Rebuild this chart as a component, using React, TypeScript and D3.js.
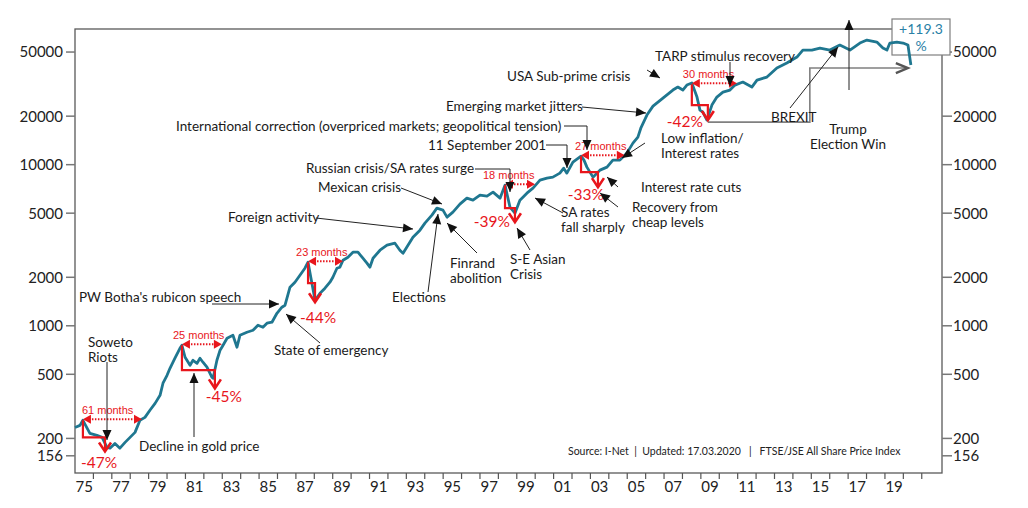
import React from 'react';
import * as d3 from 'd3';

// ---------- DATA ----------
const seriesYears = [
  1975.0, 1975.27, 1975.43, 1975.81, 1976.19, 1976.47, 1976.74, 1976.9, 1977.17, 1977.44, 1977.72, 1977.99,
  1978.26, 1978.53, 1978.8, 1979.07, 1979.35, 1979.62, 1979.78, 1980.0, 1980.16, 1980.43, 1980.7, 1980.81,
  1980.98, 1981.25, 1981.41, 1981.63, 1981.79, 1981.95, 1982.17, 1982.44, 1982.5, 1982.71, 1982.88, 1982.98,
  1983.26, 1983.58, 1983.8, 1983.96, 1984.34, 1984.67, 1984.94, 1985.21, 1985.43, 1985.7, 1985.97, 1986.24,
  1986.41, 1986.68, 1986.95, 1987.22, 1987.49, 1987.66, 1987.87, 1988.04, 1988.31, 1988.58, 1988.85, 1989.01,
  1989.23, 1989.39, 1989.56, 1989.83, 1990.1, 1990.37, 1990.64, 1990.86, 1991.02, 1991.19, 1991.57, 1991.95,
  1992.38, 1992.65, 1992.82, 1993.09, 1993.36, 1993.74, 1994.01, 1994.39, 1994.66, 1994.99, 1995.21, 1995.53,
  1995.91, 1996.29, 1996.62, 1997.0, 1997.38, 1997.71, 1998.09, 1998.36, 1998.63, 1998.9, 1999.17, 1999.55,
  1999.88, 2000.26, 2000.64, 2000.96, 2001.34, 2001.55, 2001.72, 2002.05, 2002.49, 2002.65, 2002.81, 2003.14,
  2003.52, 2003.9, 2004.22, 2004.6, 2004.98, 2005.31, 2005.58, 2005.75, 2006.07, 2006.4, 2006.94, 2007.48,
  2007.75, 2008.02, 2008.24, 2008.51, 2008.79, 2008.95, 2009.11, 2009.33, 2009.6, 2009.87, 2010.2, 2010.58,
  2010.85, 2011.28, 2011.77, 2012.05, 2012.59, 2013.13, 2013.67, 2014.22, 2014.54, 2015.03, 2015.47, 2016.01,
  2016.55, 2017.1, 2017.64, 2018.02, 2018.56, 2018.89, 2019.11, 2019.27, 2019.65, 2019.98, 2020.25, 2020.41,
];
const seriesValues = [
  234, 241, 259, 215, 209, 203, 176, 174, 186, 174, 189, 203,
  218, 259, 270, 299, 330, 370, 440, 493, 545, 629, 725, 757,
  638, 569, 611, 585, 629, 594, 553, 479, 472, 611, 705, 736,
  837, 873, 736, 873, 912, 938, 1008, 979, 1037, 1052, 1196, 1304,
  1342, 1735, 1864, 2060, 2277, 2481, 1838, 1441, 1593, 1711, 1864, 2002,
  2277, 2310, 2553, 2665, 2863, 2863, 2627, 2446, 2310, 2627, 2945, 3164,
  3255, 2945, 2822, 3164, 3548, 3922, 4334, 4859, 5371, 5219, 4722, 5072,
  5686, 6197, 6022, 6468, 6376, 6752, 6197, 7464, 5448, 5000, 6022, 6656,
  7149, 8016, 8249, 8367, 8859, 9515, 8859, 10371, 11297, 10669, 9653, 8367,
  9248, 9653, 10669, 10669, 11792, 13608, 14824, 17000, 20311, 23090, 25900, 29038,
  30309, 29038, 31187, 32099, 26272, 21815, 21199, 18912, 23435, 26272, 28220, 29038,
  31187, 32564, 30309, 33506, 34968, 39776, 42725, 46550, 51450, 51450, 52940, 51450,
  55265, 51450, 56865, 59360, 57685, 52940, 51450, 56865, 57685, 56865, 55265, 41520,
];

const yTickValues = [156, 200, 500, 1000, 2000, 5000, 10000, 20000, 50000];
const yTickLabels = ['156', '200', '500', '1000', '2000', '5000', '10000', '20000', '50000'];
const xMinorTickYears = d3.range(1976, 2022);
const xLabelYears = [1975, 1977, 1979, 1981, 1983, 1985, 1987, 1989, 1991, 1993, 1995, 1997, 1999, 2001, 2003, 2005, 2007, 2009, 2011, 2013, 2015, 2017, 2019];
const xLabels = ['75', '77', '79', '81', '83', '85', '87', '89', '91', '93', '95', '97', '99', '01', '03', '05', '07', '09', '11', '13', '15', '17', '19'];

// drawdowns
const ddPeakYear = [1975.43, 1980.81, 1987.66, 1998.36, 2002.49, 2008.51];
const ddPeakValue = [259, 757, 2481, 7464, 11297, 31500];
const ddStepValue = [203, 530, 1838, 5371, 8990, 23435];
const ddTroughYear = [1976.63, 1982.6, 1988.04, 1998.9, 2003.41, 2009.38];
const ddTroughValue = [166, 409, 1401, 4397, 7252, 18912];
const ddRecoveryYear = [1978.64, 1982.98, 1989.56, 1999.99, 2004.87, 2010.96];
const ddMonths = [61, 25, 23, 18, 27, 30];
const ddPct = [-47, -45, -44, -39, -33, -42];

// recovery since 2009 low
const recoveryStartYear = 2009.38;
const recoveryStartValue = 18377;
const recoveryStepYear = 2014.92;
const recoveryEndYear = 2020.3;
const recoveryEndValue = 39776;
const recoveryPct = '+119.3';

// ---------- LAYOUT ----------
const W = 1028, H = 508;
const M = { left: 75, right: 942, top: 29, bottom: 473 };
const ddLabelDx = [-1, -9, -12, -22, -6, -9];
const pctDx = [-6, 9, 3, -23, -12, -23];
const pctDy = [17, 14, 21, 5, 13, 7];

type Callout = { lines: string[]; x: number; y: number; anchor?: string; path?: number[][]; lh?: number };
const callouts: Callout[] = [
  { lines: ['Soweto', 'Riots'], x: 88, y: 347, path: [[107, 362], [107, 440]] },
  { lines: ['Decline in gold price'], x: 139, y: 451, path: [[194, 437], [194, 373]] },
  { lines: ["PW Botha's rubicon speech"], x: 79, y: 302, path: [[212, 304], [279, 304]] },
  { lines: ['State of emergency'], x: 274, y: 355, path: [[320, 343], [286, 314]] },
  { lines: ['Foreign activity'], x: 228, y: 222, path: [[316, 218], [413, 229]] },
  { lines: ['Mexican crisis'], x: 318, y: 192, path: [[401, 188], [442, 204]] },
  { lines: ['Elections'], x: 419, y: 302, anchor: 'middle', path: [[428, 292], [438, 214]] },
  { lines: ['Finrand', 'abolition'], x: 450, y: 268, path: [[477, 253], [447, 223]] },
  { lines: ['Russian crisis/SA rates surge'], x: 306, y: 173, path: [[475, 169], [510, 169], [510, 192]] },
  { lines: ['S-E Asian', 'Crisis'], x: 510, y: 264, path: [[530, 250], [517, 228]] },
  { lines: ['SA rates', 'fall sharply'], x: 561, y: 217, path: [[563, 213], [535, 198]] },
  { lines: ['11 September 2001'], x: 428, y: 150, path: [[546, 145], [567, 145], [567, 168]] },
  { lines: ['International correction (overpriced markets; geopolitical tension)'], x: 176, y: 131, path: [[564, 126], [587, 126], [587, 150]] },
  { lines: ['Emerging market jitters'], x: 446, y: 111, path: [[582, 107], [646, 113]] },
  { lines: ['USA Sub-prime crisis'], x: 507, y: 81, path: [[647, 70], [660, 78]] },
  { lines: ['TARP stimulus recovery'], x: 655, y: 61, path: [[730, 62], [730, 86]] },
  { lines: ['BREXIT'], x: 771, y: 122, path: [[790, 108], [838, 47]] },
  { lines: ['Trump', 'Election Win'], x: 848, y: 134, anchor: 'middle', lh: 15, path: [[849, 90], [849, 20]] },
  { lines: ['Low inflation/', 'Interest rates'], x: 661, y: 143, path: [[645, 143], [622, 158]] },
  { lines: ['Interest rate cuts'], x: 641, y: 192, path: [[618, 187], [607, 177]] },
  { lines: ['Recovery from', 'cheap levels'], x: 632, y: 212, path: [[618, 207], [600, 193]] },
];

const LINE = '#1f7790';
const RED = '#e8161c';
const AXIS = '#595959';
const FONT = 'Lato, "Open Sans", sans-serif';

function head(p: number[], q: number[], len = 9, half = 4) {
  const dx = q[0] - p[0], dy = q[1] - p[1];
  const L = Math.hypot(dx, dy) || 1;
  const ux = dx / L, uy = dy / L;
  const bx = q[0] - ux * len, by = q[1] - uy * len;
  return `${q[0]},${q[1]} ${bx - uy * half},${by + ux * half} ${bx + uy * half},${by - ux * half}`;
}

export default function App() {
  const x = d3.scaleLinear().domain([1975, 2022.1]).range([M.left, M.right]);
  const y = d3.scaleLog().domain([122, 69500]).range([M.bottom, M.top]);
  const pts: [number, number][] = seriesYears.map((yr, i) => [yr, seriesValues[i]]);
  const line = d3.line<[number, number]>().x(d => x(d[0])).y(d => y(d[1]));

  const rsX = x(recoveryStartYear), rsY = y(recoveryStartValue);
  const rmX = x(recoveryStepYear), reX = x(recoveryEndYear), reY = y(recoveryEndValue);

  return (
    <svg width={W} height={H} style={{ position: 'absolute', left: 0, top: 0, background: '#fff' }} fontFamily={FONT}>
      <rect x={0} y={0} width={W} height={H} fill="#fff" />
      <rect x={M.left} y={M.top} width={M.right - M.left} height={M.bottom - M.top} fill="none" stroke={AXIS} strokeWidth={1.3} />
      {yTickValues.map((v, i) => (
        <g key={'yt' + v}>
          <line x1={66} x2={M.left} y1={y(v)} y2={y(v)} stroke="#777" strokeWidth={1.5} />
          <text x={63} y={y(v)} dy="0.36em" textAnchor="end" fontSize={15} fill="#222">{yTickLabels[i]}</text>
          <line x1={M.right} x2={M.right + 10} y1={y(v)} y2={y(v)} stroke="#777" strokeWidth={1.5} />
          <text x={M.right + 11} y={y(v)} dy="0.36em" textAnchor="start" fontSize={15} fill="#222">{yTickLabels[i]}</text>
        </g>
      ))}
      {xMinorTickYears.map(yr => (
        <line key={'xt' + yr} x1={x(yr)} x2={x(yr)} y1={M.bottom} y2={M.bottom + 6} stroke="#555" strokeWidth={1.2} />
      ))}
      {xLabelYears.map((yr, i) => (
        <text key={'xl' + yr} x={x(yr + 0.5)} y={492} textAnchor="middle" fontSize={15} fill="#222">{xLabels[i]}</text>
      ))}

      {/* recovery connector */}
      <polyline points={`${rsX},${rsY} ${rmX},${rsY} ${rmX},${reY} ${reX - 2},${reY}`} fill="none" stroke="#808080" strokeWidth={1.6} />
      <polyline points={`${reX - 13},${reY - 5} ${reX - 1},${reY} ${reX - 13},${reY + 5}`} fill="none" stroke="#555" strokeWidth={2.4} />

      {/* percent box */}
      <rect x={892} y={19} width={58} height={36} fill="#fff" stroke="#7f7f7f" strokeWidth={1.2} />
      <text x={921} y={34} textAnchor="middle" fontSize={14} fill="#2a7fa6">{recoveryPct}</text>
      <text x={921} y={51} textAnchor="middle" fontSize={14} fill="#2a7fa6">%</text>

      {/* series */}
      <path d={line(pts) || ''} fill="none" stroke={LINE} strokeWidth={2.8} strokeLinejoin="round" />

      {/* drawdowns */}
      {ddPeakYear.map((py0, i) => {
        const px = x(py0), py = y(ddPeakValue[i]), sy = y(ddStepValue[i]);
        const tx = x(ddTroughYear[i]), ty = y(ddTroughValue[i]);
        const ex = x(ddRecoveryYear[i]);
        const ay = py - 1;
        return (
          <g key={'dd' + i}>
            <polyline points={`${px},${py} ${px},${sy} ${tx},${sy} ${tx},${ty - 2}`} fill="none" stroke={RED} strokeWidth={2.2} />
            <polyline points={`${tx - 6},${ty - 9} ${tx},${ty} ${tx + 6},${ty - 9}`} fill="none" stroke={RED} strokeWidth={2.6} />
            <line x1={px + 6} x2={ex - 6} y1={ay} y2={ay} stroke={RED} strokeWidth={2} strokeDasharray="1.5 1.5" />
            <polygon points={head([ex, ay], [px, ay], 8, 4.5)} fill={RED} />
            <polygon points={head([px, ay], [ex, ay], 8, 4.5)} fill={RED} />
            <text x={px + ddLabelDx[i]} y={ay - 5} fontSize={11} fontFamily='"Liberation Sans", Arial, sans-serif' fill={RED}>{ddMonths[i]} months</text>
            <text x={tx + pctDx[i]} y={ty + pctDy[i]} textAnchor="middle" fontSize={15.5} fill={RED}>{ddPct[i]}%</text>
          </g>
        );
      })}

      {/* callouts */}
      {callouts.map((c, i) => (
        <g key={'co' + i}>
          {c.lines.map((t, j) => (
            <text key={j} x={c.x} y={c.y + j * (c.lh || 14.5)} textAnchor={c.anchor || 'start'} fontSize={13.5} fill="#1a1a1a">{t}</text>
          ))}
          {c.path && (
            <>
              <polyline points={c.path.map(p => p.join(',')).join(' ')} fill="none" stroke="#222" strokeWidth={1} />
              <polygon points={head(c.path[c.path.length - 2], c.path[c.path.length - 1], 10, 4.5)} fill="#111" />
            </>
          )}
        </g>
      ))}

      {/* source */}
      <text x={568} y={455} fontSize={10.5} fill="#222" xmlSpace="preserve">{'Source: I-Net  |  Updated: 17.03.2020   |   FTSE/JSE All Share Price Index'}</text>
    </svg>
  );
}
